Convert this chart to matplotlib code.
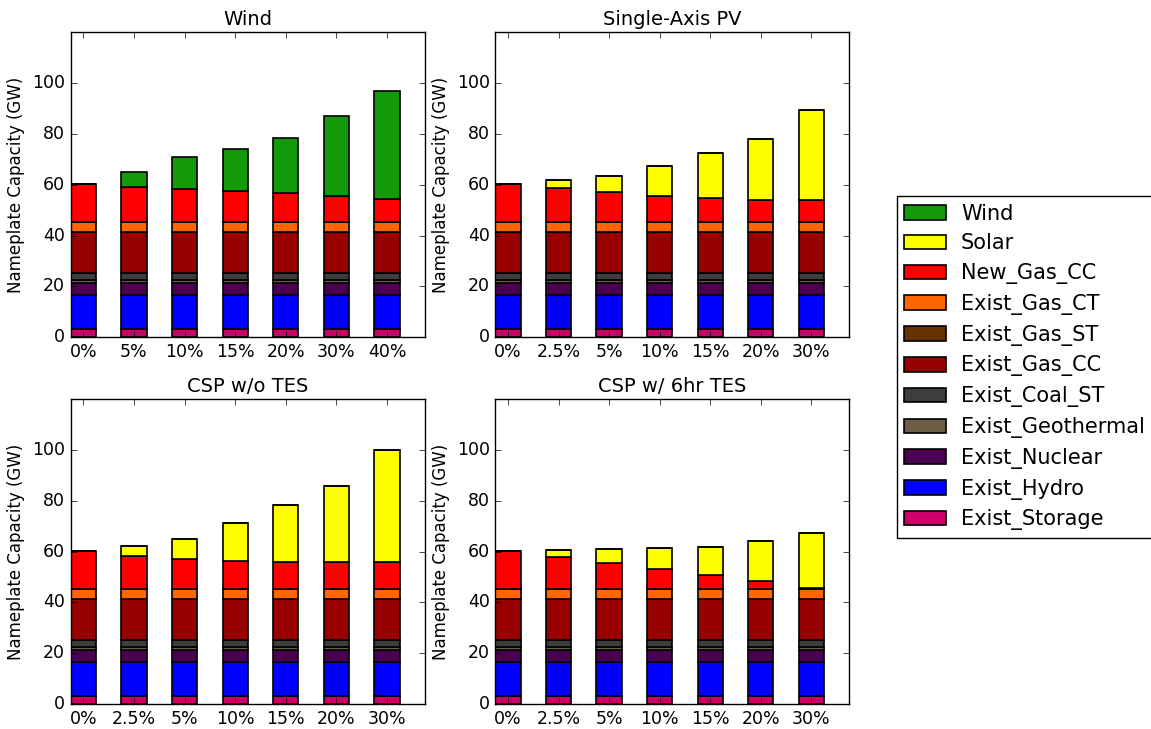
import matplotlib
matplotlib.use("Agg")
import matplotlib.pyplot as plt
import numpy as np

plt.style.use("classic")
plt.rcParams["font.family"] = ["DejaVu Sans"]
plt.rcParams["figure.facecolor"] = "white"
plt.rcParams["savefig.facecolor"] = "white"

# Technologies, bottom of the stack first
techs = ["Exist_Storage", "Exist_Hydro", "Exist_Nuclear", "Exist_Geothermal",
         "Exist_Coal_ST", "Exist_Gas_CC", "Exist_Gas_ST", "Exist_Gas_CT",
         "New_Gas_CC", "Solar", "Wind"]
colors = {
    "Wind": "#139A0A",
    "Solar": "#FFFF00",
    "New_Gas_CC": "#FF0000",
    "Exist_Gas_CT": "#FF6600",
    "Exist_Gas_ST": "#663300",
    "Exist_Gas_CC": "#990000",
    "Exist_Coal_ST": "#3D3D3D",
    "Exist_Geothermal": "#6E5E48",
    "Exist_Nuclear": "#4C0052",
    "Exist_Hydro": "#0000FF",
    "Exist_Storage": "#CC0066",
}

# Existing fleet (GW), identical in every scenario
exist_storage = 3.3
exist_hydro = 13.3
exist_nuclear = 4.6
exist_geothermal = 1.3
exist_coal_st = 2.8
exist_gas_cc = 16.0
exist_gas_st = 0.1
exist_gas_ct = 4.0

# Scenario labels
wind_labels = ["0%", "5%", "10%", "15%", "20%", "30%", "40%"]
solar_labels = ["0%", "2.5%", "5%", "10%", "15%", "20%", "30%"]

# Wind scenarios
wind_new_gas = [15.0, 13.7, 12.8, 12.1, 11.3, 10.0, 9.1]
wind_wind = [0.0, 5.9, 12.7, 16.7, 21.5, 31.6, 42.4]

# Single-axis PV scenarios
pv_new_gas = [15.0, 13.4, 11.7, 10.0, 9.3, 8.6, 8.5]
pv_solar = [0.0, 3.1, 6.3, 12.1, 17.8, 24.0, 35.5]

# CSP without storage
csp_new_gas = [15.0, 12.8, 11.8, 10.8, 10.6, 10.4, 10.5]
csp_solar = [0.0, 4.0, 7.6, 14.9, 22.5, 29.9, 44.2]

# CSP with 6 hr thermal storage
tes_new_gas = [15.0, 12.3, 10.2, 7.9, 5.3, 2.9, 0.1]
tes_solar = [0.0, 2.8, 5.4, 8.0, 11.1, 15.8, 21.8]

panels = [
    ("Wind", wind_labels, wind_new_gas, [0.0] * 7, wind_wind),
    ("Single-Axis PV", solar_labels, pv_new_gas, pv_solar, [0.0] * 7),
    ("CSP w/o TES", solar_labels, csp_new_gas, csp_solar, [0.0] * 7),
    ("CSP w/ 6hr TES", solar_labels, tes_new_gas, tes_solar, [0.0] * 7),
]

fig = plt.figure(figsize=(11.51, 7.29), dpi=100)
W, H = 1151.0, 729.0
rects = [
    (70.7, 32.0, 425.0, 337.3),
    (495.3, 32.0, 849.3, 337.3),
    (70.7, 399.3, 425.0, 704.0),
    (495.3, 399.3, 849.3, 704.0),
]

handles = {}
for (title, labels, new_gas, solar, wind), (x0, y0, x1, y1) in zip(panels, rects):
    ax = fig.add_axes([x0 / W, 1 - y1 / H, (x1 - x0) / W, (y1 - y0) / H])
    n = len(labels)
    x = np.arange(n)
    layers = {
        "Exist_Storage": [exist_storage] * n,
        "Exist_Hydro": [exist_hydro] * n,
        "Exist_Nuclear": [exist_nuclear] * n,
        "Exist_Geothermal": [exist_geothermal] * n,
        "Exist_Coal_ST": [exist_coal_st] * n,
        "Exist_Gas_CC": [exist_gas_cc] * n,
        "Exist_Gas_ST": [exist_gas_st] * n,
        "Exist_Gas_CT": [exist_gas_ct] * n,
        "New_Gas_CC": new_gas,
        "Solar": solar,
        "Wind": wind,
    }
    bottom = np.zeros(n)
    for t in techs:
        vals = np.asarray(layers[t], dtype=float)
        b = ax.bar(x, vals, width=0.5, bottom=bottom, align="edge",
                   color=colors[t], edgecolor="black", linewidth=1.2)
        handles[t] = b
        bottom = bottom + vals
    ax.set_xlim(0, n)
    ax.set_ylim(0, 120)
    ax.set_yticks([0, 20, 40, 60, 80, 100])
    ax.set_xticks(x + 0.25)
    ax.set_xticklabels(labels)
    ax.tick_params(labelsize=12.5)
    ax.set_ylabel("Nameplate Capacity (GW)", fontsize=12)
    ax.set_title(title, fontsize=14)

order = techs[::-1]
fig.legend([handles[t] for t in order], order, loc="center left",
           bbox_to_anchor=(897 / W, 1 - 367 / H), borderaxespad=0.0,
           fontsize=15, handlelength=2.0, handletextpad=0.72,
           labelspacing=0.47, borderpad=0.35, fancybox=False, frameon=True)

fig.savefig("out.png", dpi=100)
